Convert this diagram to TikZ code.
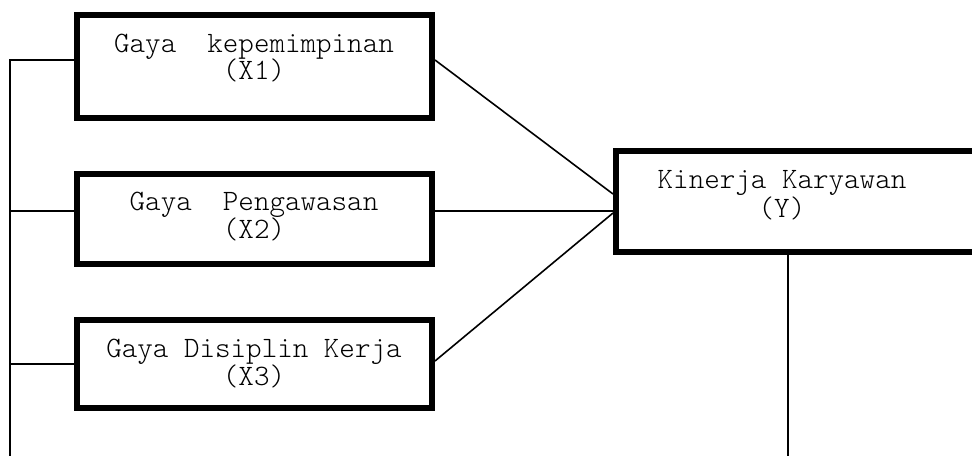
\documentclass[tikz,border=0pt]{standalone}
\usepackage{fontspec}
\newfontfamily\lblfont{Latin Modern Mono Light}
\begin{document}
\begin{tikzpicture}[x=0.5pt,y=-0.5pt,
  box/.style={draw=black,line width=3pt,fill=white,inner sep=0pt,minimum width=177.5pt},
  lbl/.style={anchor=base,inner sep=0pt,font=\lblfont\fontsize{14.8}{16}\selectfont},
  conn/.style={draw=black,line width=0.8pt}]
\useasboundingbox (0,0) rectangle (972,455);
\clip (0,0) rectangle (972,455);
\fill[white] (0,0) rectangle (972,455);
% boxes
\node[box,minimum height=51.5pt] (x1) at (254.5,66.5) {};
\node[box,minimum height=45pt] (x2) at (254.5,219) {};
\node[box,minimum height=44pt] (x3) at (254.5,364) {};
\node[box,minimum width=182pt,minimum height=50.5pt] (y) at (798,201.5) {};
% labels
\node[lbl] (x1a) at (254,52) {Gaya~~kepemimpinan};
\node[lbl] (x1b) at (254,79) {(X1)};
\node[lbl] (x2a) at (254,210) {Gaya~~Pengawasan};
\node[lbl] (x2b) at (254,238) {(X2)};
\node[lbl] (x3a) at (254,357) {Gaya Disiplin Kerja};
\node[lbl] (x3b) at (254,385) {(X3)};
\node[lbl] (ya) at (782,188) {Kinerja Karyawan};
\node[lbl] (yb) at (782,217) {(Y)};
% free ends
\coordinate (rb) at (10,460);
\coordinate (ybot) at (788,460);
% connectors
\draw[conn] ([yshift=3.25pt]x1.west) -| (rb);
\draw[conn] ([yshift=4pt]x2.west) -- ([yshift=4pt]x2.west -| rb);
\draw[conn] (x3.west) -- (x3.west -| rb);
\draw[conn] ([yshift=3.25pt]x1.east) -- ([yshift=3.75pt]y.west);
\draw[conn] ([yshift=4pt]x2.east) -- ([yshift=-4.75pt]y.west);
\draw[conn] ([yshift=1.5pt]x3.east) -- ([yshift=-5.75pt]y.west);
\draw[conn] ([xshift=-5pt]y.south) -- (ybot);
\end{tikzpicture}
\end{document}
